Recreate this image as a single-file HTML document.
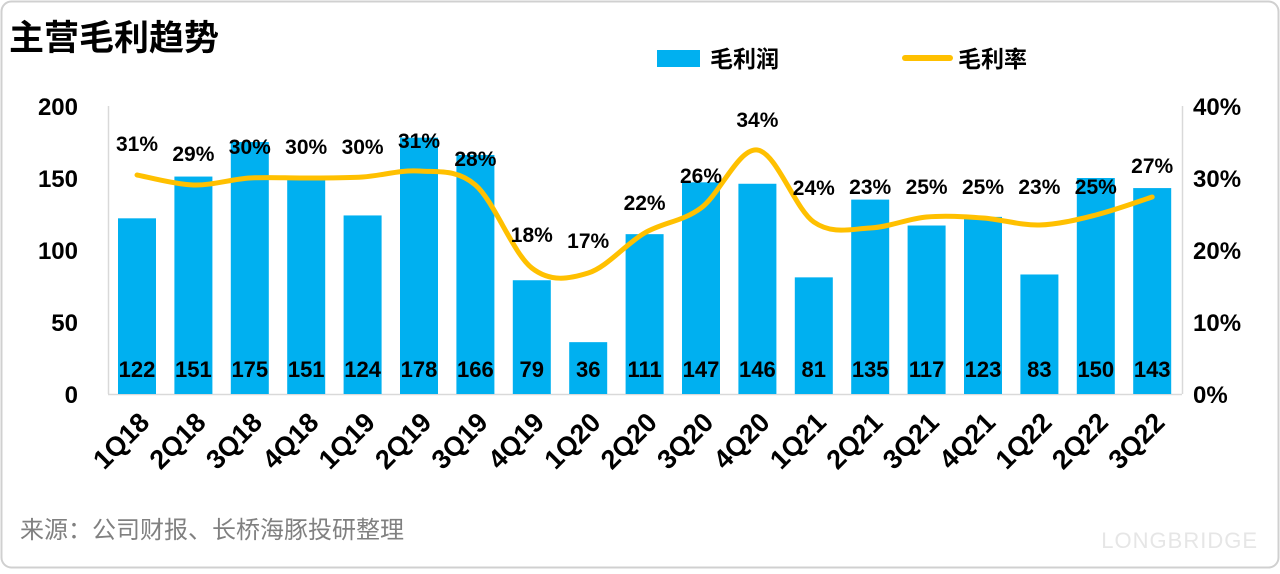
<!DOCTYPE html>
<html><head><meta charset="utf-8">
<style>
html,body{margin:0;padding:0;background:#fff;}
body{width:1280px;height:569px;overflow:hidden;font-family:"Liberation Sans","Noto Sans CJK SC",sans-serif;}
</style></head>
<body>
<svg id="s" width="1280" height="569" xmlns="http://www.w3.org/2000/svg" font-family="Liberation Sans, Noto Sans CJK SC, sans-serif">
<rect x="1.5" y="1.5" width="1277" height="566" rx="10" fill="#fff" stroke="#d0d0d0" stroke-width="2"/>
<text x="9" y="50" font-size="35" font-weight="bold" fill="#000">主营毛利趋势</text>
<rect x="657" y="50" width="43" height="17" fill="#00b0f0"/>
<text x="710" y="67" font-size="23" font-weight="bold" fill="#000">毛利润</text>
<line x1="905" y1="58" x2="950" y2="58" stroke="#ffc000" stroke-width="6" stroke-linecap="round"/>
<text x="958" y="67" font-size="23" font-weight="bold" fill="#000">毛利率</text>
<text x="1258" y="548" font-size="22" fill="#e6e6e6" text-anchor="end" letter-spacing="1">LONGBRIDGE</text>
<text x="20" y="538" font-size="24" fill="#808080">来源：公司财报、长桥海豚投研整理</text>
<g id="g"></g>
</svg>
<script>
var g=document.getElementById('g');var ns='http://www.w3.org/2000/svg';
function el(t,a,txt){var e=document.createElementNS(ns,t);for(var k in a)e.setAttribute(k,a[k]);if(txt!=null)e.textContent=txt;g.appendChild(e);return e;}
var cats=['1Q18','2Q18','3Q18','4Q18','1Q19','2Q19','3Q19','4Q19','1Q20','2Q20','3Q20','4Q20','1Q21','2Q21','3Q21','4Q21','1Q22','2Q22','3Q22'];
var vals=[122,151,175,151,124,178,166,79,36,111,147,146,81,135,117,123,83,150,143];
var pct=['31%','29%','30%','30%','30%','31%','28%','18%','17%','22%','26%','34%','24%','23%','25%','25%','23%','25%','27%'];
var ly=[175,185,178,178,177,171,185,268,273,233,208,150,222,228,217,218,225,215,197];
var y0=394,sc=1.44,x0=137,dx=56.4;
el('line',{x1:108.5,y1:106,x2:108.5,y2:394,stroke:'#d9d9d9','stroke-width':1.5});
el('line',{x1:1182.5,y1:106,x2:1182.5,y2:394,stroke:'#d9d9d9','stroke-width':1.5});
el('line',{x1:108,y1:394.5,x2:1182,y2:394.5,stroke:'#d9d9d9','stroke-width':1.5});
[0,50,100,150,200].forEach(function(v){el('text',{x:78,y:y0-v*sc+9,'font-size':24,'font-weight':'bold','text-anchor':'end'},v);});
[0,10,20,30,40].forEach(function(v){el('text',{x:1193,y:y0-v*7.2+9,'font-size':24,'font-weight':'bold'},v+'%');});
var pts=[];
cats.forEach(function(c,i){var x=x0+i*dx,h=vals[i]*sc;
el('rect',{x:x-19,y:y0-h,width:38,height:h,fill:'#00b0f0'});
el('text',{x:x,y:377,'font-size':22,'font-weight':'bold','text-anchor':'middle'},vals[i]);
el('text',{x:x+14,y:424,'font-size':27,'font-weight':'bold','text-anchor':'end',transform:'rotate(-45 '+(x+14)+' 424)'},c);
pts.push([x,ly[i]]);});
var d='M'+pts[0][0]+' '+pts[0][1];
for(var i=0;i<pts.length-1;i++){var p0=pts[i-1]||pts[i],p1=pts[i],p2=pts[i+1],p3=pts[i+2]||p2;
d+=' C'+(p1[0]+(p2[0]-p0[0])/6)+' '+(p1[1]+(p2[1]-p0[1])/6)+' '+(p2[0]-(p3[0]-p1[0])/6)+' '+(p2[1]-(p3[1]-p1[1])/6)+' '+p2[0]+' '+p2[1];}
el('path',{d:d,fill:'none',stroke:'#ffc000','stroke-width':5,'stroke-linecap':'round'});
var ty=[143,153,146,146,146,140,158,234,240,202,175,119,187,186,186,186,186,186,165];
cats.forEach(function(c,i){el('text',{x:x0+i*dx,y:ty[i]+8,'font-size':21,'font-weight':'bold','text-anchor':'middle'},pct[i]);});
</script>
</body></html>
